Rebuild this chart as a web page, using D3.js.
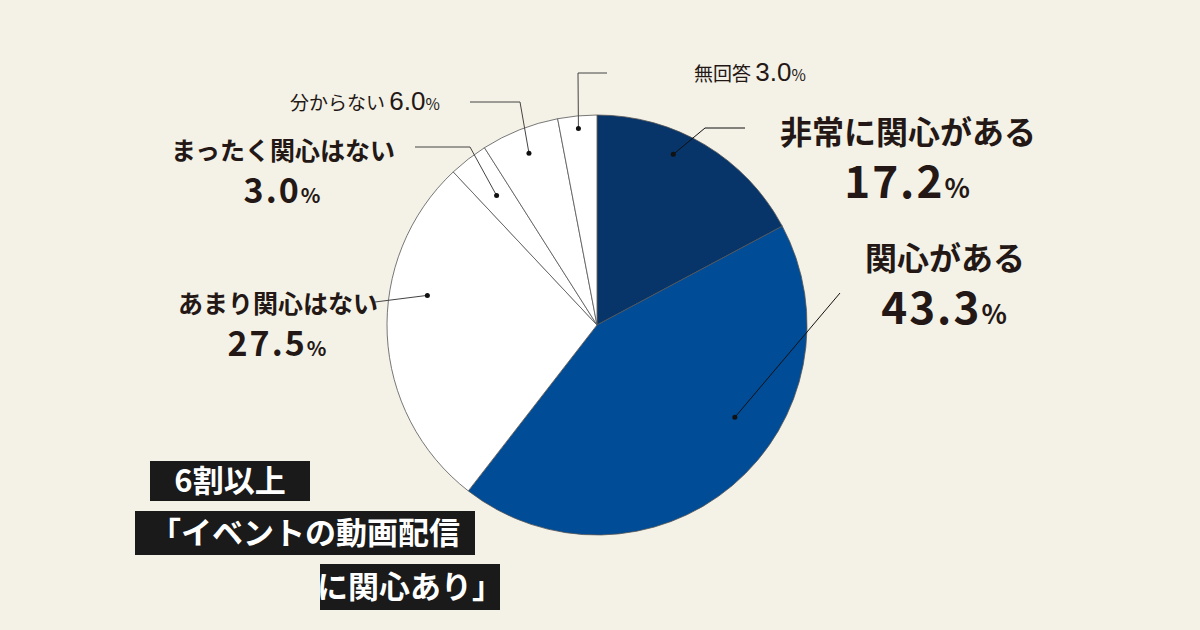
<!DOCTYPE html>
<html><head><meta charset="utf-8">
<script src="https://cdn.jsdelivr.net/npm/d3@7"></script>
<style>body{margin:0;background:#f4f1e6}svg{display:block}text{font-family:"Noto Sans CJK JP",sans-serif;fill:#231815}</style>
</head><body><svg id="c" width="1200" height="630"></svg>
<script>
const categories=["非常に関心がある","関心がある","あまり関心はない","まったく関心はない","分からない","無回答"];
const values=[17.2,43.3,27.5,3.0,6.0,3.0];
const colors=["#073469","#004c97","#ffffff","#ffffff","#ffffff","#ffffff"];
const svg=d3.select("#c");
svg.append("rect").attr("width",1200).attr("height",630).attr("fill","#f4f1e6");
const cx=597,cy=325,R=210;
const g=svg.append("g").attr("transform",`translate(${cx},${cy})`);
const pie=d3.pie().sort(null).value(d=>d);
const arcs=pie(values);
const arc=d3.arc().innerRadius(0).outerRadius(R);
g.selectAll("path").data(arcs).join("path").attr("d",arc)
 .attr("fill",(d,i)=>colors[i]).attr("stroke","#555").attr("stroke-width",0.8);
// leader config: dot radius fraction, angle offset, path points after dot, label
const leaders=[
 {r:0.89,da:-0.12,pts:[[705,128],[745,128]],dark:true},
 {r:0.79,da:-0.28,pts:[[840,293]],dark:true},
 {r:0.82,da:0.22,pts:[[375,302]]},
 {r:0.78,da:0,pts:[[470,147],[415,147]]},
 {r:0.88,da:0,pts:[[520,102],[470,102]]},
 {r:0.94,da:0,pts:[[578,73],[607,73]]}
];
arcs.forEach((a,i)=>{
 const L=leaders[i];const ang=(a.startAngle+a.endAngle)/2+L.da;
 const x=cx+Math.sin(ang)*R*L.r,y=cy-Math.cos(ang)*R*L.r;
 const col=L.dark?"#111":"#333";
 svg.append("path").attr("d",d3.line()([[x,y],...L.pts])).attr("fill","none").attr("stroke",L.dark?"#111":"#444").attr("stroke-width",1);
 svg.append("circle").attr("cx",x).attr("cy",y).attr("r",2.5).attr("fill","#111");
});
function lab(x,y,name,val,ns,vs,anchor,inline){
 if(inline){
  const t=svg.append("text").attr("x",x).attr("y",y).attr("text-anchor",anchor).attr("font-size",ns);
  t.append("tspan").text(name+" ");
  t.append("tspan").attr("font-size",vs).attr("font-family","Liberation Sans,Arial").text(val.toFixed(1));
  t.append("tspan").attr("font-size",vs*0.6).text("%");
  return;
 }
 svg.append("text").attr("x",x).attr("y",y).attr("text-anchor",anchor).attr("font-size",ns).attr("font-weight",700).text(name);
 const t=svg.append("text").attr("x",x).attr("y",y+ns*1.7).attr("text-anchor",anchor).attr("font-weight",700).attr("font-size",vs).attr("font-family","Liberation Sans,Arial").attr("letter-spacing",2);
 t.append("tspan").text(val.toFixed(1));
 t.append("tspan").attr("font-size",vs*0.6).text("%");
}
lab(908,144,categories[0],values[0],32,44,"middle");
lab(945,270,categories[1],values[1],32,44,"middle");
lab(278,313,categories[2],values[2],25,34,"middle");
lab(283,160,categories[3],values[3],25,34,"middle");
lab(365,110,categories[4],values[4],19,26,"middle",true);
lab(750,81,categories[5],values[5],19,26,"middle",true);
const boxes=[["6割以上",150,461,160,40],["「イベントの動画配信",135,511,340,44],["に関心あり」",320,564,180,46]];
boxes.forEach(b=>{
 svg.append("rect").attr("x",b[1]).attr("y",b[2]).attr("width",b[3]).attr("height",b[4]).attr("fill","#1a1a1a");
 svg.append("text").attr("x",b[1]+b[3]/2).attr("y",b[2]+b[4]/2+11).attr("text-anchor","middle").attr("font-size",31).attr("font-weight",700).style("fill","#fff").text(b[0]);
});
</script></body></html>
